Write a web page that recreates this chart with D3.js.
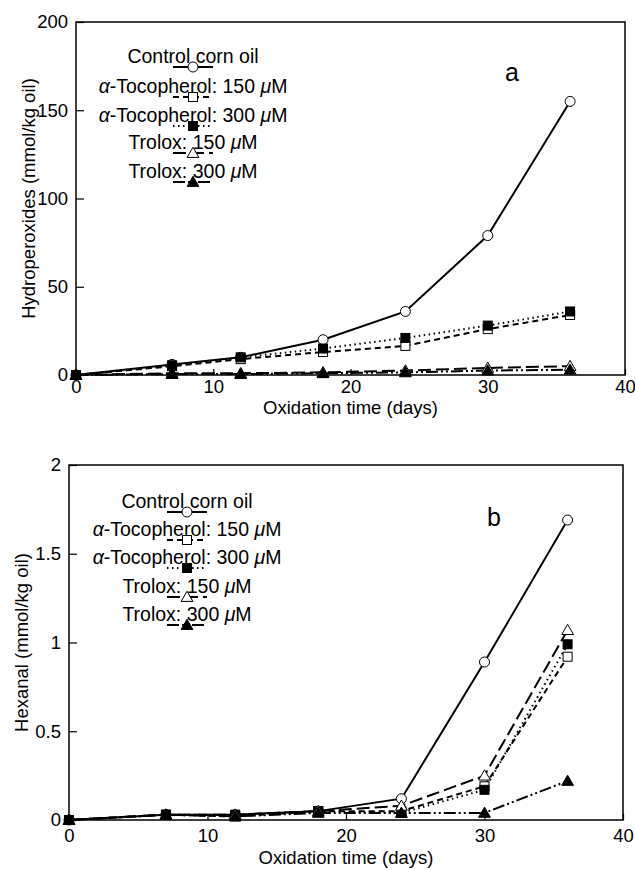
<!DOCTYPE html>
<html><head><meta charset="utf-8">
<script src="https://cdn.jsdelivr.net/npm/d3@7"></script>
<style>
body{margin:0;background:#fff;}
svg text{font-family:"Liberation Sans",Arial,Helvetica,sans-serif;fill:#000;}
</style></head>
<body><svg id="c" width="635" height="869"></svg>
<script>
// ---- data ----
const days = [0, 7, 12, 18, 24, 30, 36];
const seriesNames = ["Control corn oil", "α-Tocopherol: 150 μM", "α-Tocopherol: 300 μM", "Trolox: 150 μM", "Trolox: 300 μM"];
// Panel a: hydroperoxides (mmol/kg oil)
const hydroControl = [0, 6, 10, 20, 36, 79, 155];
const hydroToc150  = [0, 5, 9, 13, 16.5, 26, 34];
const hydroToc300  = [0, 5.5, 10, 15, 21, 28, 36];
const hydroTro150  = [0, 1, 1, 1.5, 2.5, 4, 5];
const hydroTro300  = [0, 0.5, 0.5, 1, 1.5, 2.5, 3];
// Panel b: hexanal (mmol/kg oil)
const hexControl = [0, 0.03, 0.03, 0.05, 0.12, 0.89, 1.69];
const hexToc150  = [0, 0.03, 0.02, 0.05, 0.05, 0.19, 0.92];
const hexToc300  = [0, 0.03, 0.03, 0.05, 0.04, 0.17, 0.99];
const hexTro150  = [0, 0.03, 0.03, 0.05, 0.08, 0.25, 1.07];
const hexTro300  = [0, 0.03, 0.02, 0.04, 0.04, 0.04, 0.22];
const xTicks = [0, 10, 20, 30, 40];
const yTicksA = [0, 50, 100, 150, 200];
const yTicksB = [0, 0.5, 1, 1.5, 2];
const yTickLabelsB = ["0", "0.5", "1", "1.5", "2"];

// ---- styles ----
const styles = [
  {dash: null, marker: "circle", fill: "#fff"},
  {dash: "6,4", marker: "square", fill: "#fff"},
  {dash: "1.5,3.5", marker: "square", fill: "#000"},
  {dash: "13,5", marker: "triangle", fill: "#fff"},
  {dash: "12,3,2,3,2,3", marker: "triangle", fill: "#000"}
];

const svg = d3.select("#c");

function drawMarker(g, type, x, y, fill) {
  if (type === "circle") {
    g.append("circle").attr("cx", x).attr("cy", y).attr("r", 5)
      .attr("fill", fill).attr("stroke", "#000").attr("stroke-width", 1);
  } else if (type === "square") {
    g.append("rect").attr("x", x - 4.5).attr("y", y - 4.5).attr("width", 9).attr("height", 9)
      .attr("fill", fill).attr("stroke", "#000").attr("stroke-width", 1);
  } else {
    const p = d3.symbol().type(d3.symbolTriangle).size(60)();
    g.append("path").attr("d", p).attr("transform", `translate(${x},${y + 1})`)
      .attr("fill", fill).attr("stroke", "#000").attr("stroke-width", 1);
  }
}

function addMixedText(g, x, y, str) {
  const t = g.append("text").attr("x", x).attr("y", y).attr("text-anchor", "middle").attr("font-size", 19.5);
  const parts = str.split(/([αμ])/);
  parts.forEach(p => {
    if (!p) return;
    const ts = t.append("tspan").text(p);
    if (p === "α" || p === "μ") ts.attr("font-style", "italic");
  });
}

function panel(opts) {
  const {left, right, top, bottom, yMax, yTicks, yLabels, series, label, labelPos,
         yTitle, yTitleX, xTitleY, xPad, legendX, legendBase} = opts;
  const x = d3.scaleLinear().domain([0, 40]).range([left, right]);
  const y = d3.scaleLinear().domain([0, yMax]).range([bottom, top]);
  const g = svg.append("g");

  const xAxis = d3.axisBottom(x).tickValues(xTicks).tickSizeInner(-6).tickSizeOuter(0).tickPadding(xPad);
  const gx = g.append("g").attr("transform", `translate(0,${bottom})`).call(xAxis);
  const yAxis = d3.axisLeft(y).tickValues(yTicks).tickFormat((d, i) => yLabels[i]).tickSizeInner(-8).tickSizeOuter(0).tickPadding(8);
  const gy = g.append("g").attr("transform", `translate(${left},0)`).call(yAxis);
  [gx, gy].forEach(a => {
    a.select(".domain").remove();
    a.selectAll("text").attr("font-size", 18.5).attr("font-family", "Liberation Sans, Arial, sans-serif");
    a.selectAll("line").attr("stroke", "#000").attr("stroke-width", 1.2);
  });
  g.append("rect").attr("x", left).attr("y", top).attr("width", right - left).attr("height", bottom - top)
    .attr("fill", "none").attr("stroke", "#000").attr("stroke-width", 1.5);

  const line = d3.line().x((d, i) => x(days[i])).y(d => y(d));
  series.forEach((vals, si) => {
    const st = styles[si];
    g.append("path").datum(vals).attr("d", line).attr("fill", "none")
      .attr("stroke", "#000").attr("stroke-width", 2)
      .attr("stroke-dasharray", st.dash);
  });
  series.forEach((vals, si) => {
    const st = styles[si];
    vals.forEach((v, i) => drawMarker(g, st.marker, x(days[i]), y(v), st.fill));
  });

  const lg = g.append("g");
  seriesNames.forEach((n, i) => {
    const by = legendBase[i];
    addMixedText(lg, legendX, by, n);
    const sy = by + 4;
    lg.append("line").attr("x1", legendX - 20).attr("x2", legendX + 20).attr("y1", sy).attr("y2", sy)
      .attr("stroke", "#000").attr("stroke-width", 2).attr("stroke-dasharray", styles[i].dash);
    drawMarker(lg, styles[i].marker, legendX, sy, styles[i].fill);
  });

  g.append("text").attr("x", labelPos[0]).attr("y", labelPos[1]).attr("text-anchor", "middle")
    .attr("font-size", 25).text(label);

  g.append("text").attr("x", (left + right) / 2).attr("y", xTitleY).attr("text-anchor", "middle")
    .attr("font-size", 18.5).text("Oxidation time (days)");
  g.append("text").attr("transform", `translate(${yTitleX},${(top + bottom) / 2}) rotate(-90)`)
    .attr("text-anchor", "middle").attr("dy", "0.35em").attr("font-size", 18.5).text(yTitle);
}

panel({
  left: 76, right: 625, top: 22, bottom: 375, yMax: 200,
  yTicks: yTicksA, yLabels: yTicksA.map(String),
  series: [hydroControl, hydroToc150, hydroToc300, hydroTro150, hydroTro300],
  label: "a", labelPos: [512, 81],
  yTitle: "Hydroperoxides (mmol/kg oil)", yTitleX: 29, xTitleY: 414, xPad: 5,
  legendX: 193, legendBase: [63, 93, 122, 149, 178]
});

panel({
  left: 69, right: 623, top: 465, bottom: 820, yMax: 2,
  yTicks: yTicksB, yLabels: yTickLabelsB,
  series: [hexControl, hexToc150, hexToc300, hexTro150, hexTro300],
  label: "b", labelPos: [494, 526],
  yTitle: "Hexanal (mmol/kg oil)", yTitleX: 22, xTitleY: 864, xPad: 9,
  legendX: 187, legendBase: [508, 536, 564, 593, 621]
});
</script></body></html>
